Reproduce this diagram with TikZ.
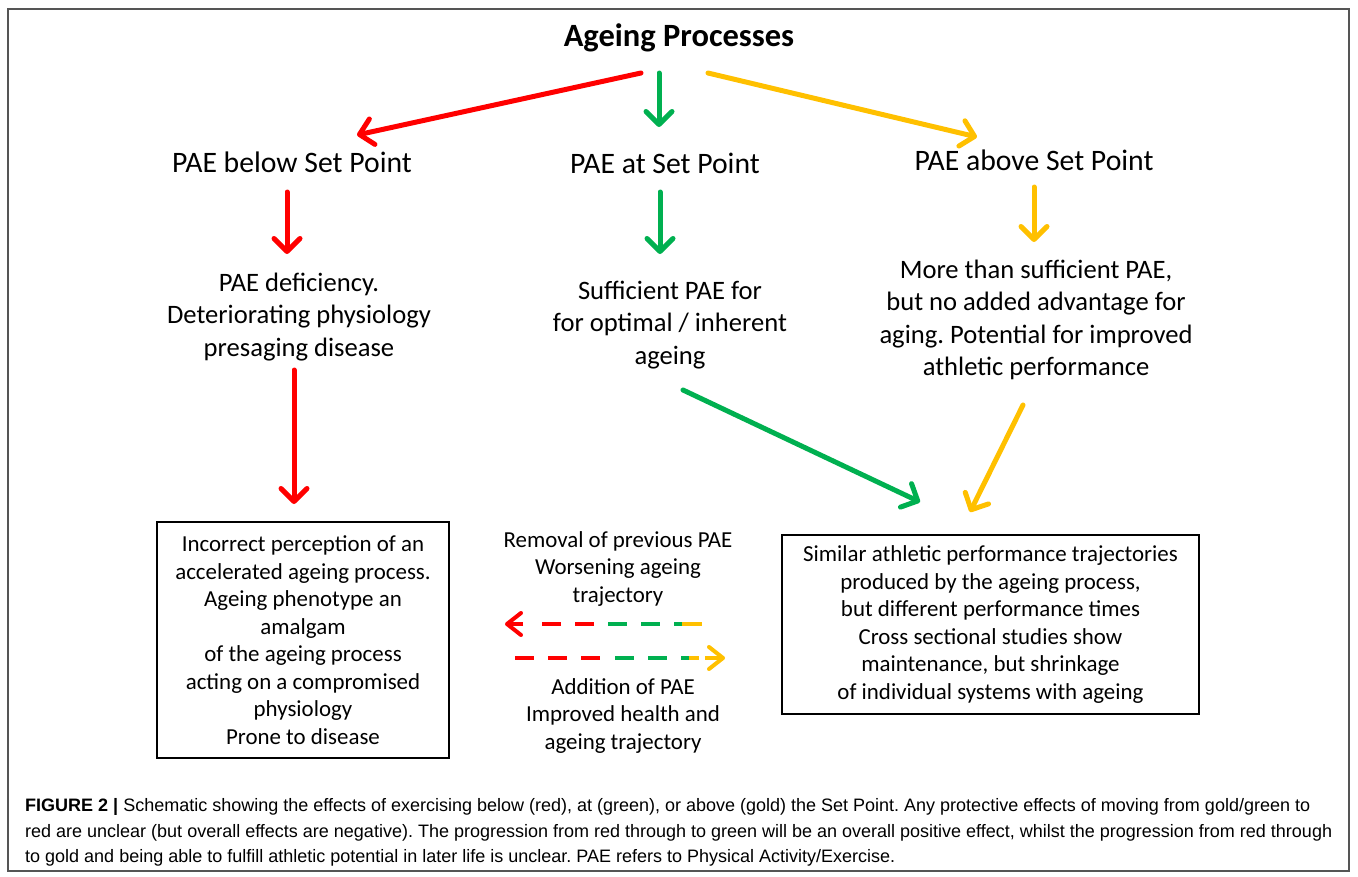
\documentclass[tikz,border=0pt]{standalone}
\usepackage{fontspec}
\setmainfont{Carlito}
\newfontfamily\capfont{Liberation Sans}
\usetikzlibrary{arrows.meta}
\definecolor{cred}{HTML}{FF0000}
\definecolor{cgreen}{HTML}{00B050}
\definecolor{cgold}{HTML}{FFC000}
\definecolor{frame}{HTML}{555555}
\frenchspacing
\begin{document}
\begin{tikzpicture}[x=1pt,y=-1pt,
  arr/.style={line width=5pt, line cap=round, line join=round, -{Straight Barb[length=13pt,width=26pt,round]}},
  darr/.style={line width=4pt, -{Straight Barb[length=14pt,width=22pt,round]}},
  dsh/.style={line width=4pt, dash pattern=on 19pt off 14pt},
  sol/.style={line width=4pt},
  titlef/.style={font=\fontsize{32.5}{38}\selectfont\bfseries, inner sep=0pt},
  headf/.style={font=\fontsize{29.7}{34}\selectfont, inner sep=0pt},
  bodyf/.style={font=\fontsize{26.6}{32.3}\selectfont, align=center, inner sep=0pt},
  smallf/.style={font=\fontsize{22.9}{27.5}\selectfont, align=center, inner sep=0pt},
  boxf/.style={draw=black, line width=1.3pt, align=center, inner sep=0pt},
  capf/.style={font=\capfont\fontsize{18}{26}\selectfont, align=left, inner sep=0pt, anchor=west},
]
\useasboundingbox (0,0) rectangle (1358,876);
\draw[frame, line width=1.5pt] (8,9) rectangle (1349,871);

% title and headers
\node[titlef] (title) at (679,38) {Ageing Processes};
\node[headf] (below) at (292,162) {PAE below Set Point};
\node[headf] (at) at (665,163) {PAE at Set Point};
\node[headf] (above) at (1034,160) {PAE above Set Point};

% second row texts
\node[bodyf] (defic) at (299,317) {PAE deficiency.\\Deteriorating physiology\\presaging disease};
\node[bodyf] (suff) at (670,325) {Sufficient PAE for\\for optimal / inherent\\ageing};
\node[bodyf] (more) at (1036,320) {More than sufficient PAE,\\but no added advantage for\\aging. Potential for improved\\athletic performance};

% boxes
\node[boxf, smallf, draw=black, minimum width=292pt, minimum height=236pt] (lbox) at (303,640)
  {Incorrect perception of an\\accelerated ageing process.\\Ageing phenotype an\\amalgam\\of the ageing process\\acting on a compromised\\physiology\\Prone to disease};
\node[boxf, smallf, draw=black, minimum width=417pt, minimum height=179pt] (rbox) at (990.5,624.5)
  {Similar athletic performance trajectories\\produced by the ageing process,\\but different performance times\\Cross sectional studies show\\maintenance, but shrinkage\\of individual systems with ageing};

% middle labels
\node[smallf] (removal) at (618,569) {Removal of previous PAE\\Worsening ageing\\trajectory};
\node[smallf] (addition) at (623,716) {Addition of PAE\\Improved health and\\ageing trajectory};

% coordinates for connector ends
\coordinate (t1) at (641,73);  \coordinate (h1) at (357,135);
\coordinate (t2) at (659,73);  \coordinate (h2) at (659,127);
\coordinate (t3) at (708,73);  \coordinate (h3) at (977,137);
\coordinate (t4) at (287,192); \coordinate (h4) at (287,254);
\coordinate (t5) at (660,192); \coordinate (h5) at (660,254);
\coordinate (t6) at (1034,187);\coordinate (h6) at (1034,242);
\coordinate (t7) at (294,370); \coordinate (h7) at (294,504);
\coordinate (t8) at (683,390); \coordinate (h8) at (920,502);
\coordinate (t9) at (1023,405);\coordinate (h9) at (970,512);

\draw[arr, cred] (t1) -- (h1);
\draw[arr, cgreen] (t2) -- (h2);
\draw[arr, cgold] (t3) -- (h3);
\draw[arr, cred] (t4) -- (h4);
\draw[arr, cgreen] (t5) -- (h5);
\draw[arr, cgold] (t6) -- (h6);
\draw[arr, cred] (t7) -- (h7);
\draw[arr, cgreen] (t8) -- (h8);
\draw[arr, cgold] (t9) -- (h9);

% dashed arrows (top: leftwards)
\coordinate (d1a) at (523,624); \coordinate (d1h) at (505,624);
\coordinate (d1r1) at (594,624); \coordinate (d1r2) at (542,624);
\coordinate (d1g1) at (608,624); \coordinate (d1g2) at (682,624);
\coordinate (d1y1) at (682,624); \coordinate (d1y2) at (702,624);
\draw[darr, cred] (d1a) -- (d1h);
\draw[dsh, cred] (d1r1) -- (d1r2);
\draw[dsh, cgreen] (d1g1) -- (d1g2);
\draw[sol, cgold] (d1y1) -- (d1y2);

% bottom: rightwards
\coordinate (d2r1) at (515,658); \coordinate (d2r2) at (600,658);
\coordinate (d2g1) at (615,658); \coordinate (d2g2) at (689,658);
\coordinate (d2y1) at (689,658); \coordinate (d2y2) at (699,658);
\coordinate (d2a) at (705,658); \coordinate (d2h) at (725,658);
\draw[dsh, cred] (d2r1) -- (d2r2);
\draw[dsh, cgreen] (d2g1) -- (d2g2);
\draw[sol, cgold] (d2y1) -- (d2y2);
\draw[darr, cgold] (d2a) -- (d2h);

% caption
\node[capf] (cap1) at (25,807) {\textbf{FIGURE 2} \textbf{|} Schematic showing the effects of exercising below (red), at (green), or above (gold) the Set Point. Any protective effects of moving from gold/green to};
\node[capf] (cap2) at (25,833) {red are unclear (but overall effects are negative). The progression from red through to green will be an overall positive effect, whilst the progression from red through};
\node[capf] (cap3) at (25,858) {to gold and being able to fulfill athletic potential in later life is unclear. PAE refers to Physical Activity/Exercise.};
\end{tikzpicture}
\end{document}
